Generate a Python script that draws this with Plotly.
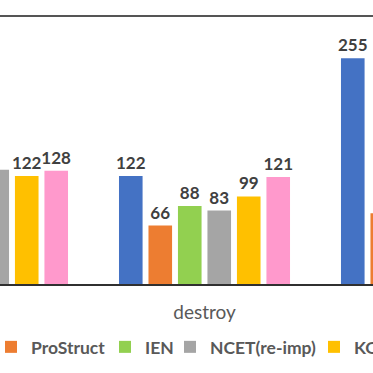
import plotly.graph_objects as go

categories = ["create", "destroy", "move"]
series_names = ["Gold", "ProStruct", "IEN", "NCET(re-imp)", "KOALA", "Ours"]
# values not visible in the cropped picture are left as None
gold = [None, 122, 255]
prostruct = [None, 66, 80]
ien = [None, 88, None]
ncet = [129, 83, None]
koala = [122, 99, None]
ours = [128, 121, None]
series_values = [gold, prostruct, ien, ncet, koala, ours]
colors = ["#4472C4", "#ED7D31", "#92D050", "#A5A5A5", "#FFC000", "#FF99CC"]
legend_x = [-0.6, -0.0242, 0.2815, 0.4557, 0.8418, 1.6]

legend_font = dict(family="Lato", size=17.5, color="#595959", weight="bold")

fig = go.Figure()
layout_legends = {}
for i, (name, vals, col) in enumerate(zip(series_names, series_values, colors)):
    lg = "legend" if i == 0 else f"legend{i+1}"
    fig.add_trace(go.Bar(
        x=categories, y=vals, name=name,
        marker=dict(color=col, line=dict(width=10, color="rgba(0,0,0,0)")),
        text=[("" if v is None else str(v)) for v in vals],
        textposition="outside", cliponaxis=False, constraintext="none",
        textfont=dict(family="Lato", size=17, color="#404040", weight="bold"),
        legend=lg, showlegend=True, hoverinfo="skip",
    ))
    layout_legends[lg] = dict(orientation="h", x=legend_x[i], xanchor="left",
                              y=-0.235, yanchor="middle", font=legend_font,
                              bgcolor="rgba(0,0,0,0)", borderwidth=0)

fig.update_layout(
    width=373, height=373,
    margin=dict(l=0, r=0, t=16, b=89, autoexpand=False),
    paper_bgcolor="white", plot_bgcolor="white",
    barmode="group", bargap=0.203, bargroupgap=0.2,
    xaxis=dict(range=[0.0788, 1.759], showline=True, linecolor="#303030", linewidth=1.5,
               showgrid=False, ticks="", ticklabelstandoff=10, automargin=False,
               tickfont=dict(family="Lato", size=19, color="#595959")),
    yaxis=dict(range=[0, 302.8], visible=False, showgrid=False, automargin=False),
    shapes=[dict(type="line", xref="paper", yref="paper", x0=0, x1=1, y0=1, y1=1,
                 line=dict(color="#555555", width=2))],
    **layout_legends,
)

fig.write_html("out.html", config={"displayModeBar": False},
               post_script="document.body.style.margin='0';document.body.style.overflow='hidden';")
